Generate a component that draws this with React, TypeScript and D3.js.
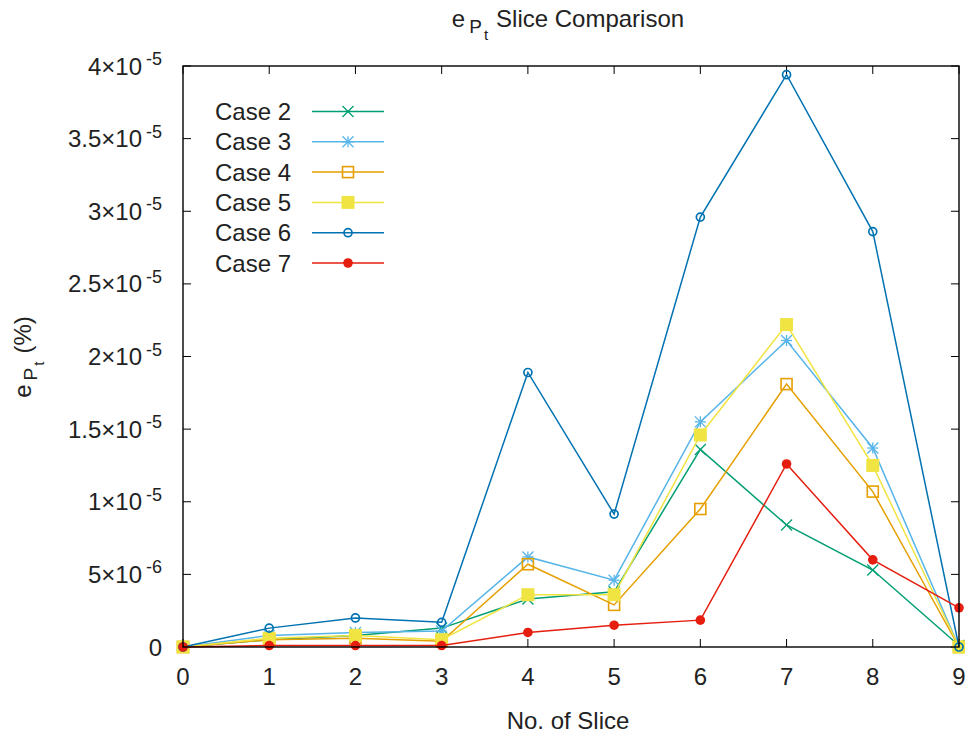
import React from "react";
import * as d3 from "d3";

const slices = [0, 1, 2, 3, 4, 5, 6, 7, 8, 9];
const case2 = [0, 0.5e-6, 0.8e-6, 1.3e-6, 3.3e-6, 3.8e-6, 13.6e-6, 8.4e-6, 5.3e-6, 0.1e-6];
const case3 = [0, 0.8e-6, 1.0e-6, 1.1e-6, 6.2e-6, 4.6e-6, 15.5e-6, 21.1e-6, 13.7e-6, 0];
const case4 = [0, 0.5e-6, 0.6e-6, 0.4e-6, 5.7e-6, 2.9e-6, 9.5e-6, 18.1e-6, 10.7e-6, 0];
const case5 = [0, 0.6e-6, 0.8e-6, 0.5e-6, 3.6e-6, 3.6e-6, 14.6e-6, 22.2e-6, 12.5e-6, 0];
const case6 = [0, 1.3e-6, 2.0e-6, 1.7e-6, 18.9e-6, 9.15e-6, 29.6e-6, 39.4e-6, 28.6e-6, 0];
const case7 = [0, 0.1e-6, 0.1e-6, 0.1e-6, 1.0e-6, 1.5e-6, 1.85e-6, 12.6e-6, 6.0e-6, 2.7e-6];

const seriesNames = ["Case 2", "Case 3", "Case 4", "Case 5", "Case 6", "Case 7"];
const seriesValues = [case2, case3, case4, case5, case6, case7];
const seriesColors = ["#009e73", "#56b4e9", "#e69f00", "#f0e442", "#0072b2", "#e51e10"];
const seriesMarkers = ["x", "star", "square", "filledSquare", "circle", "filledCircle"];

const yTicks = [0, 5e-6, 1e-5, 1.5e-5, 2e-5, 2.5e-5, 3e-5, 3.5e-5, 4e-5];
const xTicks = [0, 1, 2, 3, 4, 5, 6, 7, 8, 9];

const W = 965, H = 735;
const margin = { left: 183, right: 6, top: 66, bottom: 88 };
const FONT = "'Liberation Sans', Arial, sans-serif";
const FS = 24;

function Marker({ type, x, y, color }: { type: string; x: number; y: number; color: string }) {
  const s = 5.5;
  switch (type) {
    case "x":
      return (
        <g stroke={color} strokeWidth={1.3}>
          <line x1={x - s} y1={y - s} x2={x + s} y2={y + s} />
          <line x1={x - s} y1={y + s} x2={x + s} y2={y - s} />
        </g>
      );
    case "star":
      return (
        <g stroke={color} strokeWidth={1.3}>
          <line x1={x - s} y1={y - s} x2={x + s} y2={y + s} />
          <line x1={x - s} y1={y + s} x2={x + s} y2={y - s} />
          <line x1={x - s} y1={y} x2={x + s} y2={y} />
          <line x1={x} y1={y - s} x2={x} y2={y + s} />
        </g>
      );
    case "square":
      return <rect x={x - 5.5} y={y - 5.5} width={11} height={11} fill="none" stroke={color} strokeWidth={1.6} />;
    case "filledSquare":
      return <rect x={x - 6.5} y={y - 6.5} width={13} height={13} fill={color} />;
    case "circle":
      return <circle cx={x} cy={y} r={4} fill="none" stroke={color} strokeWidth={1.7} />;
    case "filledCircle":
      return <circle cx={x} cy={y} r={4.8} fill={color} />;
    default:
      return null;
  }
}

function fmtTick(v: number): { m: string; e: string } {
  if (v === 0) return { m: "0", e: "" };
  const e = Math.floor(Math.log10(v) + 1e-9);
  const m = +(v / Math.pow(10, e)).toFixed(2);
  return { m: `${m}×10`, e: `${e}` };
}

function SubLabel({ rest }: { rest: string }) {
  return (
    <>
      <tspan>e</tspan>
      <tspan fontSize={19} dy={6} dx={4}>P</tspan>
      <tspan fontSize={15} dy={7} dx={2}>t</tspan>
      <tspan dy={-13} dx={8}>{rest}</tspan>
    </>
  );
}

export default function App() {
  const x = d3.scaleLinear().domain([0, 9]).range([margin.left, W - margin.right]);
  const y = d3.scaleLinear().domain([0, 4e-5]).range([H - margin.bottom, margin.top]);
  const x0 = margin.left, x1 = W - margin.right, y0 = H - margin.bottom, y1 = margin.top;
  const line = d3
    .line<number>()
    .x((_, i) => x(slices[i]))
    .y((d) => y(d));
  const tl = 8;

  return (
    <svg width={W} height={H} style={{ position: "absolute", left: 0, top: 0, background: "#fff" }} fontFamily={FONT}>
      <rect x={0} y={0} width={W} height={H} fill="#fff" />
      {/* title */}
      <text x={568} y={27} textAnchor="middle" fontSize={FS} fill="#222">
        <SubLabel rest="Slice Comparison" />
      </text>
      {/* y label */}
      <text transform={`translate(31,357) rotate(-90)`} textAnchor="middle" fontSize={FS} fill="#222">
        <SubLabel rest="(%)" />
      </text>
      {/* x label */}
      <text x={568} y={729} textAnchor="middle" fontSize={FS} fill="#222">No. of Slice</text>

      {/* ticks */}
      {yTicks.map((t) => (
        <g key={"y" + t}>
          <line x1={x0} x2={x0 + tl} y1={y(t)} y2={y(t)} stroke="#000" />
          <line x1={x1} x2={x1 - tl} y1={y(t)} y2={y(t)} stroke="#000" />
        </g>
      ))}
      {xTicks.map((t) => (
        <g key={"x" + t}>
          <line x1={x(t)} x2={x(t)} y1={y0} y2={y0 - tl} stroke="#000" />
          <line x1={x(t)} x2={x(t)} y1={y1} y2={y1 + tl} stroke="#000" />
          <text x={x(t)} y={y0 + 38} textAnchor="middle" fontSize={FS} fill="#222">{t}</text>
        </g>
      ))}
      {yTicks.map((t) => {
        const f = fmtTick(t);
        return (
          <text key={"yl" + t} x={162} y={y(t) + 8.5} textAnchor="end" fontSize={FS} fill="#222">
            <tspan>{f.m}</tspan>
            {f.e && <tspan fontSize={18} dy={-9.5} dx={4}>{f.e}</tspan>}
          </text>
        );
      })}

      {/* series */}
      {seriesValues.map((vals, si) => (
        <g key={"s" + si}>
          <path d={line(vals) || ""} fill="none" stroke={seriesColors[si]} strokeWidth={1.5} />
          {vals.map((v, i) => (
            <Marker key={i} type={seriesMarkers[si]} x={x(slices[i])} y={y(v)} color={seriesColors[si]} />
          ))}
        </g>
      ))}

      {/* border */}
      <rect x={x0} y={y1} width={x1 - x0} height={y0 - y1} fill="none" stroke="#000" strokeWidth={1.4} />

      {/* legend */}
      {seriesNames.map((n, i) => {
        const ly = 111.5 + i * 30.3;
        return (
          <g key={"l" + i}>
            <text x={291} y={ly + 8.5} textAnchor="end" fontSize={FS} fill="#222">{n}</text>
            <line x1={312} x2={384} y1={ly} y2={ly} stroke={seriesColors[i]} strokeWidth={1.5} />
            <Marker type={seriesMarkers[i]} x={348} y={ly} color={seriesColors[i]} />
          </g>
        );
      })}
    </svg>
  );
}
